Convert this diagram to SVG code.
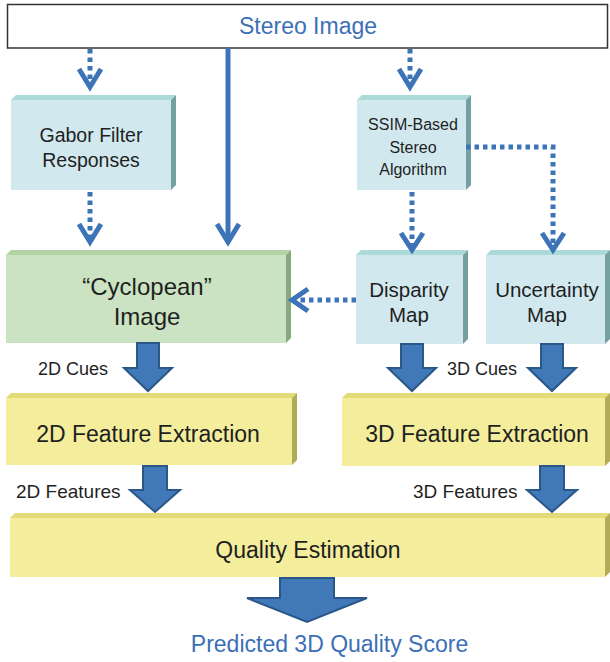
<svg xmlns="http://www.w3.org/2000/svg" width="610" height="662" viewBox="0 0 610 662">
<style>
text{font-family:"Liberation Sans",Arial,sans-serif;fill:#1f1f1f}
.blue{fill:#3b70b6}
.mid{text-anchor:middle}
.tf{fill:#d1e9ee}.tt{fill:#acdad9}.ts{fill:#74a0a0}
.gf{fill:#cbe3c2}.gt{fill:#b2d4a5}.gs{fill:#86aa7c}
.yf{fill:#f3ed9c}.yt{fill:#e3da78}.ys{fill:#b3ab58}
.dot{fill:none;stroke:#3d74b7;stroke-width:5;stroke-dasharray:4.5 4}
.solid{fill:none;stroke:#3d74b7;stroke-width:5}
.head{fill:none;stroke:#3d74b7;stroke-width:5;stroke-linejoin:miter}
.fat{fill:#4078b8;stroke:#2a5788;stroke-width:2;stroke-linejoin:miter}
</style>

<g id="stereo">
<rect x="7.5" y="4.5" width="600" height="43.5" fill="#fff" stroke="#333" stroke-width="1.5"/>
<text x="308" y="34" class="mid blue" font-size="23">Stereo Image</text>
</g>

<g id="gabor">
<rect class="tf" x="11" y="100" width="160" height="90"/>
<polygon class="tt" points="11,100 16,95 176,95 171,100"/>
<polygon class="ts" points="171,100 176,95 176,185 171,190"/>
<text x="91" y="142" class="mid" font-size="19.5">Gabor Filter</text>
<text x="91" y="167" class="mid" font-size="19.5">Responses</text>
</g>

<g id="ssim">
<rect class="tf" x="357" y="100" width="109" height="90"/>
<polygon class="tt" points="357,100 362,95 471,95 466,100"/>
<polygon class="ts" points="466,100 471,95 471,185 466,190"/>
<text x="413" y="130" class="mid" font-size="16">SSIM-Based</text>
<text x="413" y="153" class="mid" font-size="16">Stereo</text>
<text x="413" y="175" class="mid" font-size="16">Algorithm</text>
</g>

<g id="cyclopean">
<rect class="gf" x="6" y="255" width="280" height="88"/>
<polygon class="gt" points="6,255 11,250 291,250 286,255"/>
<polygon class="gs" points="286,255 291,250 291,338 286,343"/>
<text x="147" y="295" class="mid" font-size="24">“Cyclopean”</text>
<text x="147" y="325" class="mid" font-size="24">Image</text>
</g>

<g id="disparity">
<rect class="tf" x="356" y="255" width="107" height="89"/>
<polygon class="tt" points="356,255 361,250 468,250 463,255"/>
<polygon class="ts" points="463,255 468,250 468,339 463,344"/>
<text x="409" y="297" class="mid" font-size="20.5">Disparity</text>
<text x="409" y="322" class="mid" font-size="20.5">Map</text>
</g>

<g id="uncertainty">
<rect class="tf" x="486" y="255" width="119" height="89"/>
<polygon class="tt" points="486,255 491,250 610,250 605,255"/>
<polygon class="ts" points="605,255 610,250 610,339 605,344"/>
<text x="547" y="297" class="mid" font-size="20.5">Uncertainty</text>
<text x="547" y="322" class="mid" font-size="20.5">Map</text>
</g>

<g id="fe2d">
<rect class="yf" x="6" y="398" width="286" height="67"/>
<polygon class="yt" points="6,398 11,393 297,393 292,398"/>
<polygon class="ys" points="292,398 297,393 297,460 292,465"/>
<text x="148" y="442" class="mid" font-size="23">2D Feature Extraction</text>
</g>

<g id="fe3d">
<rect class="yf" x="342" y="398" width="263" height="68"/>
<polygon class="yt" points="342,398 347,393 610,393 605,398"/>
<polygon class="ys" points="605,398 610,393 610,461 605,466"/>
<text x="477" y="442" class="mid" font-size="23">3D Feature Extraction</text>
</g>

<g id="quality">
<rect class="yf" x="10" y="518" width="595" height="59"/>
<polygon class="yt" points="10,518 15,513 610,513 605,518"/>
<polygon class="ys" points="605,518 610,513 610,572 605,577"/>
<text x="308" y="558" class="mid" font-size="23">Quality Estimation</text>
</g>

<g id="score">
<text x="329.5" y="652" class="mid blue" font-size="23">Predicted 3D Quality Score</text>
</g>

<g id="connectors">
<line class="dot" x1="90" y1="49" x2="90" y2="86"/>
<polyline class="head" points="79,69 90,87 101,69"/>
<line class="dot" x1="410" y1="49" x2="410" y2="86"/>
<polyline class="head" points="399,69 410,87 421,69"/>
<line class="solid" x1="228" y1="48" x2="228" y2="240"/>
<polyline class="head" points="217,224 228,242 239,224"/>
<line class="dot" x1="90" y1="192" x2="90" y2="240"/>
<polyline class="head" points="79,224 90,242 101,224"/>
<line class="dot" x1="412" y1="192" x2="412" y2="246"/>
<polyline class="head" points="401,233 412,250 423,233"/>
<polyline class="dot" points="466,147 553,147 553,246"/>
<polyline class="head" points="542,233 553,250 564,233"/>
<line class="dot" x1="356" y1="300" x2="294" y2="300"/>
<polyline class="head" points="308,289 292,300 308,311"/>

<polygon class="fat" points="137,343 159,343 159,368 172,368 148,391 124,368 137,368"/>
<polygon class="fat" points="401,344 423,344 423,368 436,368 412,391 388,368 401,368"/>
<polygon class="fat" points="541,344 563,344 563,368 576,368 552,391 528,368 541,368"/>
<polygon class="fat" points="143,466 167,466 167,490 180,490 155,512 130,490 143,490"/>
<polygon class="fat" points="540,466 564,466 564,490 577,490 552,512 527,490 540,490"/>
<polygon class="fat" points="280,578 334,578 334,598 367,598 307,622 247,598 280,598"/>
</g>

<g id="labels">
<text x="38" y="375" font-size="18">2D Cues</text>
<text x="447" y="375" font-size="18">3D Cues</text>
<text x="16" y="498" font-size="19">2D Features</text>
<text x="413" y="498" font-size="19">3D Features</text>
</g>
</svg>
